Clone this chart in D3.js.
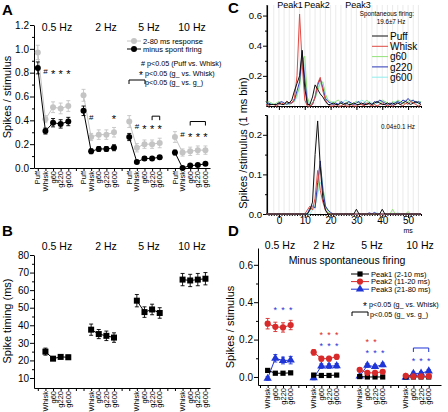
<!DOCTYPE html>
<html><head><meta charset="utf-8">
<script src="https://cdn.jsdelivr.net/npm/d3@7"></script>
<style>body{margin:0;background:#fff}svg{display:block;font-family:Arial,"Liberation Sans",sans-serif}</style>
</head><body><svg id="c" width="448" height="412"></svg>
<script>
// ---------- DATA ----------
const freqs = ["0.5 Hz","2 Hz","5 Hz","10 Hz"];
const condA = ["Puff","Whisk","g60","g220","g600"];
const condB = ["Whisk","g60","g220","g600"];
// Panel A
const aGray = [[0.97,0.41,0.51,0.50,0.52],[0.61,0.26,0.28,0.28,0.30],[0.39,0.17,0.20,0.20,0.21],[0.26,0.13,0.14,0.15,0.15]];
const aGrayErr = [[0.06,0.03,0.045,0.045,0.045],[0.05,0.03,0.04,0.04,0.04],[0.05,0.035,0.035,0.035,0.04],[0.045,0.03,0.035,0.035,0.035]];
const aBlack = [[0.84,0.31,0.38,0.37,0.39],[0.48,0.14,0.16,0.16,0.17],[0.26,0.05,0.08,0.08,0.09],[0.13,0.0,0.02,0.025,0.035]];
const aBlackErr = [[0.05,0.025,0.035,0.035,0.035],[0.04,0.02,0.02,0.02,0.025],[0.03,0.01,0.015,0.015,0.015],[0.02,0.005,0.01,0.01,0.01]];
const aHash = [[0,0.81],[1,0.43],[2,0.35],[3,0.28]];            // [group, level]
const aStars = [[0,[2,3,4],0.81],[1,[4],0.43],[2,[2,3,4],0.35],[3,[2,3,4],0.28]];
const aBrackets = [[2,3,4,0.435],[3,2,4,0.39]];                  // [group, from, to, level]
// Panel B
const bVals = [[25,21,22,21.8],[37.5,35,34,33],[54,47.5,49,47],[66,65.5,66,66.5]];
const bErr = [[2,0.8,1,1.2],[3.2,2.6,2.7,2.7],[3.5,3,3,3],[3.5,3.5,3.5,3.5]];
// Panel C (1 ms bins, -5..55 ms)
const cTimes = [-5,-4,-3,-2,-1,0,1,2,3,4,5,6,7,8,9,10,11,12,13,14,15,16,17,18,19,20,21,22,23,24,25,26,27,28,29,30,31,32,33,34,35,36,37,38,39,40,41,42,43,44,45,46,47,48,49,50,51,52,53,54,55];
const cSeries = ["Puff","Whisk","g60","g220","g600"];
const cTopPuff = [0.03,0.01,0.01,0.01,0.01, 0.02,0.01,0.01,0.03,0.02, 0.04,0.10,0.15,0.20,0.37, 0.12,0.01,0.01,0.06,0.14, 0.11,0.08,0.06,0.03,0.01, 0.01,0.02,0.01,0.01,0.02, 0.01,0.02,0.01,0.01,0.02, 0.01,0.01,0.02,0.01,0.01, 0.02,0.01,0.02,0.03,0.02, 0.01,0.01,0.02,0.01,0.02, 0.01,0.02,0.01,0.02,0.03, 0.02,0.01,0.02,0.03,0.02, 0.01];
const cTopWhisk = [0.01,0.0,0.01,0.01,0.0, 0.01,0.02,0.01,0.03,0.02, 0.02,0.05,0.20,0.61,0.28, 0.04,0.0,0.0,0.01,0.06, 0.15,0.19,0.10,0.04,0.01, 0.0,0.0,0.01,0.0,0.0, 0.01,0.0,0.0,0.01,0.0, 0.0,0.01,0.01,0.0,0.02, 0.01,0.0,0.01,0.0,0.01, 0.02,0.01,0.0,0.01,0.0, 0.01,0.02,0.01,0.0,0.02, 0.01,0.03,0.02,0.01,0.0, 0.01];
const cTopG60 = [0.02,0.03,0.02,0.01,0.02, 0.03,0.02,0.01,0.02,0.01, 0.02,0.03,0.08,0.12,0.30, 0.33,0.06,0.01,0.02,0.05, 0.10,0.15,0.16,0.08,0.04, 0.03,0.02,0.03,0.04,0.02, 0.01,0.02,0.03,0.01,0.02, 0.03,0.02,0.01,0.02,0.04, 0.02,0.01,0.02,0.03,0.02, 0.04,0.03,0.02,0.01,0.03, 0.02,0.04,0.03,0.02,0.01, 0.03,0.04,0.02,0.03,0.02, 0.03];
const cTopG220 = [0.01,0.02,0.01,0.01,0.01, 0.02,0.03,0.02,0.01,0.02, 0.02,0.04,0.10,0.16,0.36, 0.18,0.02,0.0,0.01,0.06, 0.14,0.18,0.12,0.05,0.03, 0.02,0.01,0.02,0.01,0.03, 0.02,0.01,0.03,0.02,0.01, 0.02,0.03,0.01,0.02,0.01, 0.02,0.01,0.03,0.02,0.04, 0.03,0.02,0.01,0.02,0.01, 0.02,0.03,0.02,0.04,0.03, 0.05,0.03,0.04,0.02,0.03, 0.02];
const cTopG600 = [0.02,0.01,0.02,0.01,0.01, 0.01,0.02,0.01,0.02,0.01, 0.02,0.03,0.06,0.14,0.33, 0.26,0.04,0.01,0.02,0.05, 0.11,0.17,0.15,0.07,0.03, 0.02,0.03,0.02,0.01,0.02, 0.03,0.04,0.02,0.01,0.02, 0.03,0.02,0.04,0.03,0.02, 0.03,0.02,0.01,0.02,0.03, 0.02,0.03,0.02,0.01,0.02, 0.03,0.02,0.03,0.02,0.04, 0.03,0.02,0.03,0.02,0.02, 0.03];
const cBotPuff = [0,0,0,0,0, 0,0,0,0,0, 0,0,0,0,0, 0,0,0.01,0.03,0.15, 0.235,0.12,0.04,0.01,0, 0,0,0,0,0, 0,0,0,0,0, 0.012,0,0,0,0, 0,0,0,0,0, 0.012,0,0,0,0, 0,0,0,0,0, 0,0,0,0,0, 0];
const cBotWhisk = [0,0,0,0,0, 0,0,0,0,0, 0,0,0,0,0, 0,0.01,0.02,0.01,0.04, 0.11,0.06,0.03,0.01,0, 0,0,0,0,0, 0,0,0,0,0, 0,0,0,0,0, 0,0,0,0,0, 0,0,0,0,0, 0,0,0,0,0, 0,0,0,0,0, 0];
const cBotG60 = [0,0,0,0,0, 0,0,0,0,0, 0,0,0,0,0, 0,0,0.01,0.015,0.02, 0.06,0.12,0.07,0.02,0.005, 0,0,0,0,0, 0,0,0,0,0, 0,0,0,0,0, 0,0,0,0,0, 0,0,0,0,0.012, 0,0,0,0,0, 0.006,0,0,0,0, 0];
const cBotG220 = [0,0,0,0,0, 0,0,0,0,0, 0,0,0,0,0, 0,0,0.015,0.02,0.015, 0.08,0.134,0.06,0.02,0.01, 0.004,0,0,0,0, 0,0,0,0,0, 0,0,0,0,0, 0.003,0,0.004,0,0, 0,0,0,0,0, 0,0,0,0,0, 0,0,0,0,0, 0];
const cBotG600 = [0,0,0,0,0, 0,0,0,0,0, 0,0,0,0,0, 0,0,0,0.01,0.02, 0.05,0.08,0.07,0.02,0.01, 0,0,0,0,0, 0,0,0,0,0, 0,0,0,0,0, 0,0,0,0.003,0, 0,0,0,0,0, 0,0.003,0,0,0, 0,0,0,0,0, 0];
// Panel D
const dLegend = ["Peak1 (2-10 ms)","Peak2 (11-20 ms)","Peak3 (21-80 ms)"];
const dP1 = [[0.035,0.02,0.02,0.022],[0.01,0.008,0.008,0.01],[0.002,0,0,0],[0,0,0,0]];
const dP1Err = [[0.006,0.004,0.004,0.004],[0.004,0.003,0.003,0.003],[0.003,0.002,0.002,0.002],[0.002,0.002,0.002,0.002]];
const dP2 = [[0.285,0.268,0.265,0.278],[0.132,0.098,0.098,0.108],[0.038,0.022,0.022,0.028],[0.006,0.003,0.003,0.004]];
const dP2Err = [[0.028,0.025,0.025,0.025],[0.015,0.012,0.012,0.013],[0.008,0.007,0.007,0.008],[0.004,0.003,0.003,0.003]];
const dP3 = [[-0.008,0.10,0.088,0.09],[-0.005,0.058,0.058,0.06],[0.004,0.062,0.055,0.065],[-0.002,0.018,0.02,0.032]];
const dP3Err = [[0.01,0.02,0.018,0.02],[0.01,0.012,0.012,0.012],[0.006,0.01,0.01,0.01],[0.006,0.008,0.008,0.008]];
const dStars = [["b",0,[1,2,3],0.37],["r",1,[1,2,3],0.238],["b",1,[1,2,3],0.18],["r",2,[1,2],0.198],["b",2,[1,2,3],0.14],["b",3,[1,2,3],0.10]];
const dBrackets = [["b",3,1,3,0.155]];

// ---------- HELPERS ----------
const svg = d3.select("#c");
function txt(x,y,s,fs,opt={}){
  const t = svg.append("text").attr("x",x).attr("y",y).attr("font-size",fs).text(s);
  if(opt.anchor) t.attr("text-anchor",opt.anchor);
  if(opt.weight) t.attr("font-weight",opt.weight);
  if(opt.fill) t.attr("fill",opt.fill);
  if(opt.rot) t.attr("transform",`rotate(-90,${x},${y})`);
  return t;
}
function yAxis(scale,x,major,minor,fmt,fs){
  svg.append("g").attr("transform",`translate(${x},0)`)
    .call(d3.axisLeft(scale).tickValues(minor).tickSize(2).tickSizeOuter(0).tickFormat(""))
    .call(g=>g.select(".domain").remove());
  const g = svg.append("g").attr("transform",`translate(${x},0)`)
    .call(d3.axisLeft(scale).tickValues(major).tickSize(4).tickSizeOuter(0).tickFormat(fmt));
  g.selectAll("text").attr("font-size",fs).attr("font-family",null).attr("x",-5);
  g.selectAll("line,path").attr("stroke","#000");
}
function catAxis(xs,y,labels){
  const g = svg.append("g").attr("transform",`translate(0,${y})`)
    .call(d3.axisBottom(xs).tickValues(d3.range(0,23)).tickSize(3).tickSizeOuter(0).tickFormat(""));
  g.selectAll("line,path").attr("stroke","#000");
  labels.forEach(([idx,s])=>{
    svg.append("text").attr("font-size",7.5).attr("text-anchor","end").attr("dy","0.35em")
      .attr("transform",`translate(${xs(idx)},${y+3}) rotate(-90)`).text(s);
  });
}
function errBars(xs,ys,pts,color){
  pts.forEach(p=>{
    const x=xs(p.i), y1=ys(p.v-p.e), y2=ys(p.v+p.e);
    svg.append("line").attr("x1",x).attr("x2",x).attr("y1",y1).attr("y2",y2).attr("stroke",color).attr("stroke-width",0.9);
    [y1,y2].forEach(yy=>svg.append("line").attr("x1",x-2).attr("x2",x+2).attr("y1",yy).attr("y2",yy).attr("stroke",color).attr("stroke-width",0.9));
  });
}
function star(x,cy,fs,color){ txt(x,cy+fs*0.6,"*",fs,{anchor:"middle",fill:color}); }
function bracket(x1,x2,y,color){
  svg.append("path").attr("d",`M${x1},${y+4}V${y}H${x2}V${y+4}`).attr("fill","none").attr("stroke",color).attr("stroke-width",1);
}

// ---------- PANEL A ----------
const xA = d3.scaleLinear().domain([-0.5,22.6]).range([34,210]);
const yA = d3.scaleLinear().domain([0,1.2]).range([168,25]);
const labA = [], labB = [];
freqs.forEach((f,g)=>{ condA.forEach((c,i)=>labA.push([g*6+i,c])); condB.forEach((c,i)=>labB.push([g*6+i+1,c])); });
yAxis(yA,34,d3.range(0,1.21,0.2),d3.range(0.1,1.2,0.2),d3.format(".1f"),10);
catAxis(xA,168,labA);
txt(2,15,"A",15,{weight:"bold"});
txt(11,97,"Spikes / stimulus",11,{anchor:"middle",rot:true});
const freqXA = [57,106,149,192];
freqs.forEach((f,g)=>txt(freqXA[g],31,f,10.5,{anchor:"middle"}));
function drawGroupLines(xs,ys,vals,offset,color){
  vals.forEach((row,g)=>{
    svg.append("path").datum(row).attr("fill","none").attr("stroke",color).attr("stroke-width",1)
      .attr("d",d3.line().x((v,i)=>xs(g*6+i+offset)).y(v=>ys(v)));
  });
}
function toPts(vals,errs,offset){ const p=[]; vals.forEach((row,g)=>row.forEach((v,i)=>p.push({i:g*6+i+offset,v,e:errs[g][i]}))); return p; }
const grayC = "#c4c4c4";
drawGroupLines(xA,yA,aGray,0,grayC);
const gp = toPts(aGray,aGrayErr,0);
errBars(xA,yA,gp,grayC);
gp.forEach(p=>svg.append("circle").attr("cx",xA(p.i)).attr("cy",yA(p.v)).attr("r",3).attr("fill",grayC));
drawGroupLines(xA,yA,aBlack,0,"#000");
const bp = toPts(aBlack,aBlackErr,0);
errBars(xA,yA,bp,"#000");
bp.forEach(p=>svg.append("circle").attr("cx",xA(p.i)).attr("cy",yA(p.v)).attr("r",3).attr("fill","#000"));
aHash.forEach(([g,l])=>txt(xA(g*6+1),yA(l)+2.8,"#",8,{anchor:"middle"}));
aStars.forEach(([g,items,l])=>items.forEach(i=>star(xA(g*6+i),yA(l),11,"#000")));
aBrackets.forEach(([g,a,b,l])=>bracket(xA(g*6+a),xA(g*6+b),yA(l),"#000"));
// legend A
[[41,grayC,"2-80 ms response"],[49,"#000","minus spont firing"]].forEach(([y,c,s])=>{
  svg.append("line").attr("x1",127).attr("x2",141).attr("y1",y).attr("y2",y).attr("stroke",c);
  svg.append("circle").attr("cx",134).attr("cy",y).attr("r",3).attr("fill",c);
  txt(143,y+2.7,s,7.5);
});
txt(141,66,"# p<0.05 (Puff vs. Whisk)",7.2);
star(141,72.5,10,"#000"); txt(145,75.5,"p<0.05 (g_ vs. Whisk)",7.2);
bracket(129,145,80,"#000"); txt(145,85,"p<0.05 (g_ vs. g_)",7.2);

// ---------- PANEL B ----------
const xB = d3.scaleLinear().domain([-0.5,22.6]).range([34,210]);
const yB = d3.scaleLinear().domain([4.3,80]).range([388,255]);
yAxis(yB,34,d3.range(10,81,10),d3.range(15,80,10),d3.format("d"),10);
catAxis(xB,388,labB);
txt(2,236,"B",15,{weight:"bold"});
txt(11,321,"Spike timing (ms)",11,{anchor:"middle",rot:true});
freqs.forEach((f,g)=>txt(freqXA[g],250,f,10.5,{anchor:"middle"}));
drawGroupLines(xB,yB,bVals,1,"#000");
const bbp = toPts(bVals,bErr,1);
errBars(xB,yB,bbp,"#000");
bbp.forEach(p=>svg.append("rect").attr("x",xB(p.i)-3).attr("y",yB(p.v)-3).attr("width",6).attr("height",6).attr("fill","#000"));

// ---------- PANEL C ----------
const xC = d3.scaleLinear().domain([-5,55]).range([266,421]);
const yCt = d3.scaleLinear().domain([0,0.67]).range([106,5]);
const yCb = d3.scaleLinear().domain([0,0.25]).range([214,115]);
const cColors = ["#111","#e04a44","#92e27a","#2c38b8","#92eeee"];
txt(228,13,"C",15,{weight:"bold"});
// grid
[[yCt,5,106],[yCb,115,214]].forEach(([ys,t,b])=>{
  d3.range(-4,55,2).forEach(ms=>svg.append("line").attr("x1",xC(ms)).attr("x2",xC(ms)).attr("y1",t).attr("y2",b).attr("stroke","#e2e2e2").attr("stroke-width",0.7));
});
yAxis(yCt,267,[0.2,0.4,0.6],[0.1,0.3,0.5],d3.format(".1f"),9.5);
yAxis(yCb,267,[0,0.1,0.2],[0.05,0.15,0.25],d3.format(".1f"),9.5);
svg.append("line").attr("x1",267).attr("x2",267).attr("y1",5).attr("y2",106).attr("stroke","#000");
svg.append("line").attr("x1",267).attr("x2",267).attr("y1",115).attr("y2",214).attr("stroke","#000");
[106,214].forEach((y,k)=>{
  const g1 = svg.append("g").attr("transform",`translate(0,${y})`)
    .call(d3.axisBottom(xC).tickValues(d3.range(-4,56,1)).tickSize(2).tickSizeOuter(0).tickFormat(""));
  g1.selectAll("line,path").attr("stroke","#000");
  const g2 = svg.append("g").attr("transform",`translate(0,${y})`)
    .call(d3.axisBottom(xC).tickValues([0,10,20,30,40,50]).tickSize(4).tickSizeOuter(0).tickFormat(k?d3.format("d"):""));
  g2.selectAll("line,path").attr("stroke","#000");
  g2.selectAll("text").attr("font-size",10).attr("font-family",null).attr("y",3);
});
txt(xC(50),233,"ms",7,{anchor:"middle"});
const topSeries = [cTopPuff,cTopWhisk,cTopG60,cTopG220,cTopG600];
const botSeries = [cBotPuff,cBotWhisk,cBotG60,cBotG220,cBotG600];
const drawOrder = [4,2,3,1,0];
[[topSeries,yCt],[botSeries,yCb]].forEach(([ser,ys])=>{
  drawOrder.forEach(k=>{
    svg.append("path").datum(ser[k]).attr("fill","none").attr("stroke",cColors[k]).attr("stroke-width",1)
      .attr("d",d3.line().x((v,i)=>xC(cTimes[i])).y(v=>ys(v)));
  });
});
txt(290,8,"Peak1",9,{anchor:"middle"});
txt(317,8,"Peak2",9,{anchor:"middle"});
txt(358,8,"Peak3",9,{anchor:"middle"});
txt(387,16,"Spontaneous firing:",6.3,{anchor:"middle"});
txt(391,24,"19.6±7 Hz",6.3,{anchor:"middle"});
txt(398,129,"0.04±0.1 Hz",6.3,{anchor:"middle"});
cSeries.forEach((s,k)=>{
  const y = 36+k*10.3;
  svg.append("line").attr("x1",372).attr("x2",388).attr("y1",y).attr("y2",y).attr("stroke",cColors[k]).attr("stroke-width",1);
  txt(390,y+3.6,s,10);
});
txt(247,143,"Spikes /stimulus (1 ms bin)",11,{anchor:"middle",rot:true});

// ---------- PANEL D ----------
const xD = d3.scaleLinear().domain([-0.26,23.6]).range([258,441]);
const yD = d3.scaleLinear().domain([-0.043,0.69]).range([385,248]);
yAxis(yD,258,[0,0.2,0.4,0.6],[0.1,0.3,0.5],d3.format(".1f"),10);
catAxis(xD,385,labB);
txt(228,236,"D",15,{weight:"bold"});
txt(234,327,"Spikes / stimulus",11,{anchor:"middle",rot:true});
const freqXD = [280,324,372,420];
freqs.forEach((f,g)=>txt(freqXD[g],249,f,10.5,{anchor:"middle"}));
txt(347,264,"Minus spontaneous firing",10.5,{anchor:"middle"});
const red = "#d82a2a", blue = "#1f35d6";
const dColors = ["#000",red,blue];
const dVals = [dP1,dP2,dP3], dErrs = [dP1Err,dP2Err,dP3Err];
function dMarker(k,x,y){
  if(k===0) svg.append("rect").attr("x",x-2.6).attr("y",y-2.6).attr("width",5.2).attr("height",5.2).attr("fill","#000");
  else if(k===1) svg.append("circle").attr("cx",x).attr("cy",y).attr("r",3.1).attr("fill",red);
  else svg.append("path").attr("d",d3.symbol(d3.symbolTriangle,30)()).attr("transform",`translate(${x},${y})`).attr("fill",blue);
}
[2,0,1].forEach(k=>{
  drawGroupLines(xD,yD,dVals[k],1,dColors[k]);
  const pts = toPts(dVals[k],dErrs[k],1);
  errBars(xD,yD,pts,dColors[k]);
  pts.forEach(p=>dMarker(k,xD(p.i),yD(p.v)));
});
dStars.forEach(([c,g,items,l])=>items.forEach(i=>star(xD(g*6+i+1),yD(l),9,c==="r"?red:blue)));
dBrackets.forEach(([c,g,a,b,l])=>bracket(xD(g*6+a+1),xD(g*6+b+1),yD(l),blue));
dLegend.forEach((s,k)=>{
  const y = 274+k*7.6;
  svg.append("line").attr("x1",351).attr("x2",369).attr("y1",y).attr("y2",y).attr("stroke",dColors[k]);
  dMarker(k,360,y);
  txt(371,y+2.7,s,7.5);
});
star(365,303.5,10,"#000"); txt(369,306.5,"p<0.05 (g_ vs. Whisk)",7.2);
bracket(352,368,312,"#000"); txt(370,317,"p<0.05 (g_ vs. g_)",7.2);
</script></body></html>
